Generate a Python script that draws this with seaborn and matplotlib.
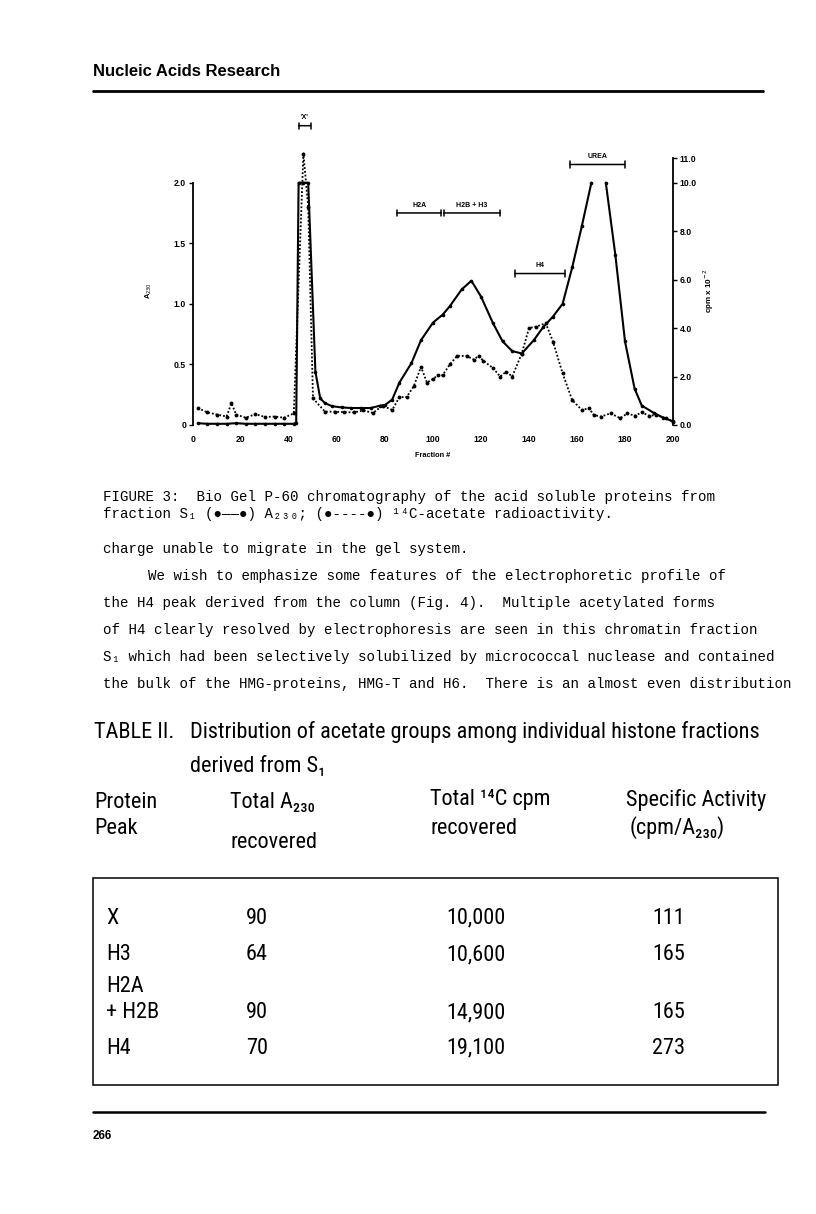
import numpy as np
import pandas as pd
import matplotlib
matplotlib.use("Agg")
import matplotlib.pyplot as plt
from matplotlib.patches import Rectangle
import seaborn as sns

# ---- chart data ----
frac_a230 = [2, 6, 10, 14, 18, 22, 26, 30, 34, 38, 42, 43, 44, 46, 48, 51, 53, 55, 58, 62,
             66, 70, 74, 78, 80, 83, 86, 91, 95, 100, 104, 107, 112, 116, 120, 125, 129,
             133, 137, 142, 146, 150, 154, 158, 162, 166, 168, 170, 172, 176, 180, 184,
             187, 192, 196, 200]
a230 = [0.015, 0.01, 0.01, 0.01, 0.015, 0.01, 0.01, 0.01, 0.01, 0.01, 0.01, 0.02, 2.0, 2.0,
        2.0, 0.44, 0.22, 0.18, 0.155, 0.145, 0.14, 0.14, 0.14, 0.16, 0.165, 0.21, 0.35,
        0.51, 0.70, 0.845, 0.91, 0.98, 1.12, 1.19, 1.06, 0.84, 0.69, 0.61, 0.59, 0.70,
        0.81, 0.895, 1.0, 1.30, 1.64, 2.0, np.nan, np.nan, 2.0, 1.40, 0.69, 0.30, 0.16,
        0.10, 0.06, 0.03]

frac_cpm = [2, 6, 10, 14, 16, 18, 22, 26, 30, 34, 38, 42, 46, 48, 50, 55, 59, 63, 67, 71,
            75, 79, 83, 86, 89, 92, 95, 97.5, 100, 102, 104, 107, 110, 114, 117, 119, 121,
            125, 128, 130.5, 133, 137, 140, 143, 147, 150, 154, 158, 162, 165, 167, 170,
            174, 178, 181, 184, 187, 190, 193, 197, 200]
cpm = [0.70, 0.52, 0.43, 0.35, 0.90, 0.43, 0.30, 0.45, 0.33, 0.35, 0.30, 0.48, 11.2, 9.0,
       1.1, 0.55, 0.55, 0.53, 0.52, 0.60, 0.50, 0.80, 0.62, 1.15, 1.15, 1.6, 2.4, 1.75,
       1.9, 2.05, 2.05, 2.5, 2.85, 2.85, 2.7, 2.85, 2.65, 2.35, 2.0, 2.2, 2.0, 2.95, 4.0,
       4.06, 4.2, 3.44, 2.13, 1.03, 0.62, 0.69, 0.41, 0.35, 0.48, 0.28, 0.48, 0.38, 0.52,
       0.38, 0.41, 0.28, 0.14]

bracket_labels = ["'X'", "H2A", "H2B + H3", "H4", "UREA"]
bracket_from = [44, 85, 104.5, 134, 157]
bracket_to = [49, 103.5, 128, 155, 180]

x_ticks = list(range(0, 201, 20))
left_ticks = [0, 0.5, 1.0, 1.5, 2.0]
left_ticklabels = ["0", "0.5", "1.0", "1.5", "2.0"]
right_ticks = [0, 2, 4, 6, 8, 10, 11]
right_ticklabels = ["0.0", "2.0", "4.0", "6.0", "8.0", "10.0", "11.0"]

# ---- table data ----
peaks = ["X", "H3", "H2A\n+ H2B", "H4"]
total_a230 = [90, 64, 90, 70]
total_cpm = [10000, 10600, 14900, 19100]
spec_act = [111, 165, 165, 273]

sns.set_style("white")
plt.rcParams["font.family"] = ["Liberation Sans", "DejaVu Sans"]
for k in ["text.color", "axes.labelcolor", "xtick.color", "ytick.color", "axes.edgecolor"]:
    plt.rcParams[k] = "black"

W, H = 816, 1214
fig = plt.figure(figsize=(W / 100, H / 100), dpi=100)


def px(x, y):
    return x / W, 1 - y / H


mono = ["Liberation Mono", "DejaVu Sans Mono"]
narrow = ["Roboto Condensed", "Liberation Sans Narrow", "Liberation Sans", "DejaVu Sans"]

# header
fig.text(*px(93, 72), "Nucleic Acids Research", fontsize=12, fontweight="bold", va="center")
fig.add_artist(plt.Line2D([93 / W, 763 / W], [1 - 91 / H] * 2, color="black", lw=2))

# ---- chromatogram ----
ax = fig.add_axes([193 / W, 1 - 425 / H, 480 / W, 269 / H])
ax2 = ax.twinx()

seg = np.cumsum(np.isnan(a230))
df_a = pd.DataFrame({"fraction": frac_a230, "a230": a230, "seg": seg}).dropna()
df_c = pd.DataFrame({"fraction": frac_cpm, "cpm": cpm})

sns.lineplot(data=df_a, x="fraction", y="a230", units="seg", estimator=None, ax=ax,
             color="black", lw=1.5, marker="o", markersize=2.6, markeredgewidth=0)
sns.lineplot(data=df_c, x="fraction", y="cpm", ax=ax2, color="black", lw=1.3,
             linestyle=(0, (1, 1.1)), marker="o", markersize=2.8, markeredgewidth=0)
for ln in ax.lines + ax2.lines:
    ln.set_clip_on(False)

ax.set_xlim(0, 200)
ax.set_ylim(0, 2.22)
ax2.set_ylim(0, 11.1)
for a in (ax, ax2):
    for s in a.spines.values():
        s.set_visible(False)
ax.spines["left"].set_visible(True)
ax.spines["left"].set_bounds(0, 2.0)
ax.spines["left"].set_linewidth(1.3)
ax2.spines["right"].set_visible(True)
ax2.spines["right"].set_bounds(0, 11)
ax2.spines["right"].set_linewidth(1.3)

tick_font = dict(fontsize=6.2, fontweight="bold")
ax.set_xticks(x_ticks)
ax.set_xticklabels([str(t) for t in x_ticks], **tick_font)
ax.tick_params(axis="x", length=0, pad=7)
ax.set_yticks(left_ticks)
ax.set_yticklabels(left_ticklabels, **tick_font)
ax.tick_params(axis="y", direction="out", length=3, width=1, left=True, pad=2)
ax2.set_yticks(right_ticks)
ax2.set_yticklabels(right_ticklabels, **tick_font)
ax2.tick_params(axis="y", direction="out", length=3, width=1, right=True, pad=2)

ax.set_xlabel("Fraction #", fontsize=5.3, fontweight="bold", labelpad=6)
ax.set_ylabel("A$_{230}$", fontsize=5.3, fontweight="bold", labelpad=14)
ax2.set_ylabel("cpm x 10$^{-2}$", fontsize=5.8, fontweight="bold", labelpad=3)

bracket_y = [2.47, 1.75, 1.75, 1.25, 2.15]
for lab, x0, x1, yb in zip(bracket_labels, bracket_from, bracket_to, bracket_y):
    ax.annotate("", xy=(x0, yb), xytext=(x1, yb), annotation_clip=False,
                arrowprops=dict(arrowstyle="|-|,widthA=0.22,widthB=0.22", lw=1.1,
                                color="black", shrinkA=0, shrinkB=0))
    ax.text((x0 + x1) / 2, yb + 0.035, lab, fontsize=5, fontweight="bold",
            ha="center", va="bottom", clip_on=False)

# ---- caption and body text ----
cap = dict(fontsize=10.2, family=mono, va="center")
fig.text(*px(103, 497), "FIGURE 3:  Bio Gel P-60 chromatography of the acid soluble proteins from", **cap)
fig.text(*px(103, 514), "fraction S₁ (●——●) A₂₃₀; (●----●) ¹⁴C-acetate radioactivity.", **cap)

body = [
    (103, "charge unable to migrate in the gel system."),
    (148, "We wish to emphasize some features of the electrophoretic profile of"),
    (103, "the H4 peak derived from the column (Fig. 4).  Multiple acetylated forms"),
    (103, "of H4 clearly resolved by electrophoresis are seen in this chromatin fraction"),
    (103, "S₁ which had been selectively solubilized by micrococcal nuclease and contained"),
    (103, "the bulk of the HMG-proteins, HMG-T and H6.  There is an almost even distribution"),
]
for i, (x0, line) in enumerate(body):
    fig.text(*px(x0, 549 + i * 27), line, **cap)

# ---- table ----
tf = dict(fontsize=16, family=narrow, va="center")
fig.text(*px(94, 732), "TABLE II.", **tf)
fig.text(*px(190, 732), "Distribution of acetate groups among individual histone fractions", **tf)
fig.text(*px(190, 767), "derived from S₁", **tf)
fig.text(*px(94, 803), "Protein", **tf)
fig.text(*px(94, 828), "Peak", **tf)
fig.text(*px(230, 803), "Total A₂₃₀", **tf)
fig.text(*px(230, 842), "recovered", **tf)
fig.text(*px(430, 800), "Total ¹⁴C cpm", **tf)
fig.text(*px(430, 828), "recovered", **tf)
fig.text(*px(626, 800), "Specific Activity", **tf)
fig.text(*px(630, 828), "(cpm/A₂₃₀)", **tf)

fig.add_artist(Rectangle(px(93, 1085), 685 / W, 207 / H, transform=fig.transFigure,
                         fill=False, lw=1.1, color="black"))

row_y = [918, 955, 1013, 1048]
for name, a, c, s, y in zip(peaks, total_a230, total_cpm, spec_act, row_y):
    if "\n" in name:
        top, bottom = name.split("\n")
        fig.text(*px(106, y - 26), top, **tf)
        fig.text(*px(106, y), bottom, **tf)
    else:
        fig.text(*px(106, y), name, **tf)
    fig.text(*px(246, y), str(a), **tf)
    fig.text(*px(446, y), f"{c:,}", **tf)
    fig.text(*px(652, y), str(s), **tf)

# footer
fig.add_artist(plt.Line2D([93 / W, 765 / W], [1 - 1112 / H] * 2, color="black", lw=1.8))
fig.text(*px(93, 1136), "266", fontsize=8.5, fontweight="bold", va="center")

fig.savefig("out.png", dpi=100)
